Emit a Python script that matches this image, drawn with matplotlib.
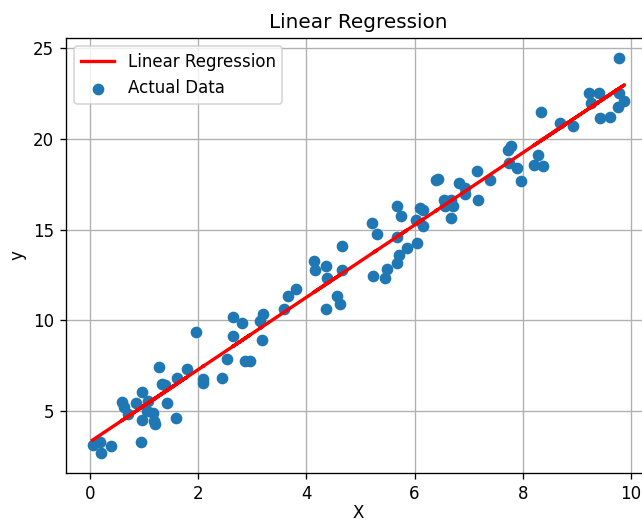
import matplotlib
matplotlib.use("Agg")
import matplotlib.pyplot as plt
import numpy as np

# measured samples (x, y)
x_vals = [0.05, 0.19, 0.20, 0.40, 0.94, 1.28, 1.33, 1.39, 1.62, 1.80,
          0.59, 0.63, 0.71, 0.86, 0.96, 1.08, 0.96, 1.17, 1.20, 1.19,
          1.42, 1.59, 1.05, 1.96, 2.10, 2.09, 2.45, 2.53, 2.87, 2.96,
          2.64, 2.65, 2.81, 3.18, 3.15, 3.20, 3.58, 3.67, 3.81, 4.37,
          4.57, 4.62, 4.14, 4.17, 4.37, 4.38, 4.66, 4.66, 5.22, 5.30,
          5.24, 5.46, 5.49, 5.68, 5.71, 5.86, 5.68, 5.68, 5.75, 6.02,
          6.16, 6.11, 6.16, 6.05, 6.43, 6.39, 6.54, 6.57, 6.68, 6.72,
          6.67, 6.82, 6.94, 6.94, 7.16, 7.17, 7.39, 7.72, 7.78, 7.75,
          7.90, 7.96, 9.78, 9.23, 9.41, 9.27, 9.43, 9.62, 9.77, 9.88,
          9.76, 8.33, 8.69, 8.92, 8.28, 8.21, 8.38]
y_vals = [3.13, 3.28, 2.69, 3.09, 3.28, 7.43, 6.48, 6.43, 6.85, 7.31,
          5.51, 5.26, 4.83, 5.48, 6.06, 5.57, 4.52, 4.93, 4.29, 4.45,
          5.44, 4.65, 5.00, 9.36, 6.76, 6.58, 6.85, 7.86, 7.76, 7.76,
          9.14, 10.20, 9.84, 8.92, 9.96, 10.33, 10.64, 11.34, 11.74, 10.64,
          11.34, 10.88, 13.26, 12.80, 13.02, 12.35, 14.08, 12.76, 15.37, 14.78,
          12.43, 12.35, 12.84, 13.17, 13.63, 13.99, 14.60, 16.32, 15.73, 15.55,
          15.22, 16.19, 16.10, 14.27, 17.79, 17.75, 16.65, 16.28, 16.65, 16.28,
          15.64, 17.56, 17.29, 16.98, 18.20, 16.65, 17.71, 19.40, 19.58, 18.67,
          18.39, 17.66, 24.43, 22.51, 22.54, 21.96, 21.14, 21.19, 22.51, 22.10,
          21.77, 21.50, 20.86, 20.68, 19.12, 18.57, 18.48]

# fitted line coefficients
slope = 1.99
intercept = 3.31

X = np.array(x_vals)
Y = np.array(y_vals)
y_pred = intercept + slope * X

fig = plt.figure(figsize=(642 / 120, 521 / 120), dpi=120)
ax = fig.add_axes([66 / 642, 48 / 521, 585 / 642, 435 / 521])

ax.plot(X, y_pred, color='red', linewidth=2, label='Linear Regression')
ax.scatter(X, Y, label='Actual Data')

ax.set_xlim(-0.44, 10.37)
ax.set_ylim(1.6, 25.55)
ax.set_xticks([0, 2, 4, 6, 8, 10])
ax.set_yticks([5, 10, 15, 20, 25])
ax.grid(True)
ax.set_axisbelow(True)

ax.set_title('Linear Regression')
ax.set_xlabel('X', labelpad=1)
ax.set_ylabel('y')
ax.legend(loc='upper left')

fig.savefig('out.png', dpi=120)
